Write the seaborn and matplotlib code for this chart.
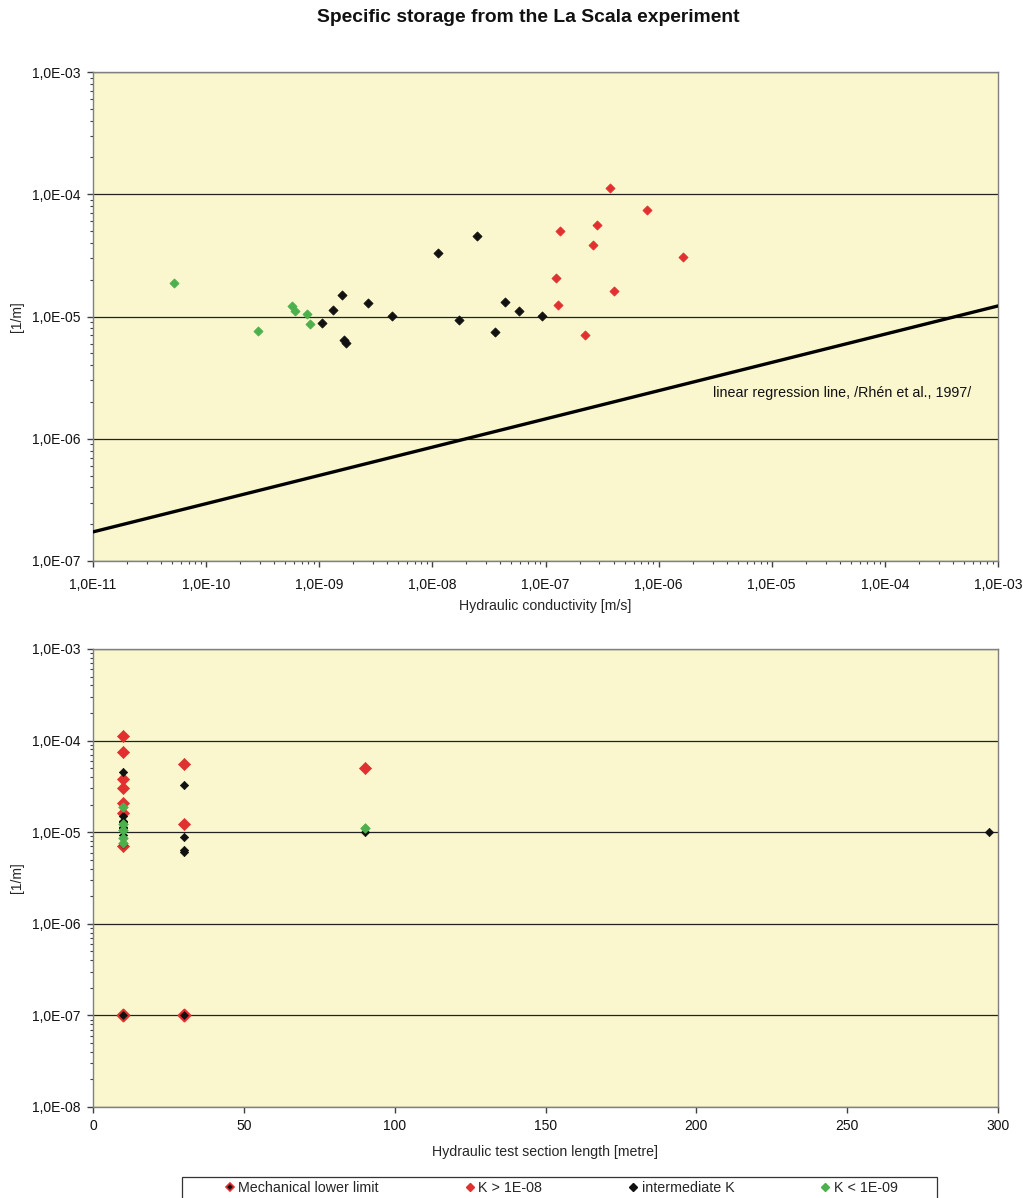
import numpy as np
import pandas as pd
import matplotlib
matplotlib.use("Agg")
import matplotlib.pyplot as plt
from matplotlib.ticker import FuncFormatter, LogLocator, MultipleLocator, NullFormatter
from matplotlib.lines import Line2D
from matplotlib.patches import Rectangle
import seaborn as sns

# ---------------- data ----------------
red_K = [1.35e-7, 1.24e-7, 1.29e-7, 2.24e-7, 2.64e-7, 2.86e-7, 3.72e-7, 4.04e-7, 7.9e-7, 1.65e-6]
red_Ss = [5.0e-5, 2.07e-5, 1.24e-5, 7.06e-6, 3.85e-5, 5.6e-5, 1.12e-4, 1.62e-5, 7.43e-5, 3.07e-5]
red_L = [90, 10, 30, 10, 10, 30, 10, 10, 10, 10]

black_K = [1.06e-9, 1.33e-9, 1.59e-9, 1.66e-9, 1.73e-9, 2.7e-9, 4.4e-9, 1.12e-8, 1.72e-8,
           2.48e-8, 3.58e-8, 4.4e-8, 5.85e-8, 9.3e-8]
black_Ss = [8.85e-6, 1.13e-5, 1.5e-5, 6.43e-6, 6.07e-6, 1.29e-5, 1.01e-5, 3.3e-5, 9.36e-6,
            4.55e-5, 7.47e-6, 1.31e-5, 1.11e-5, 1.01e-5]
black_L = [30, 10, 10, 30, 30, 10, 297, 30, 10, 10, 10, 10, 10, 90]

green_K = [5.2e-11, 2.88e-10, 5.75e-10, 6.1e-10, 7.8e-10, 8.3e-10]
green_Ss = [1.88e-5, 7.6e-6, 1.22e-5, 1.11e-5, 1.05e-5, 8.7e-6]
green_L = [10, 10, 10, 90, 10, 10]

mech_L = [10, 30]
mech_Ss = [1e-7, 1e-7]

reg_K = [1e-11, 1e-3]
reg_Ss = [1.73e-7, 1.22e-5]

legend_labels = ["Mechanical lower limit", "K > 1E-08", "intermediate K", "K < 1E-09"]
title = "Specific storage from the La Scala experiment"

RED = "#E03030"
BLACK = "#111111"
GREEN = "#4CB04C"
BG = "#FAF7CE"

sns.set_style("ticks")
plt.rcParams['font.family'] = ['Liberation Sans', 'DejaVu Sans']

fig = plt.figure(figsize=(10.23, 11.98), dpi=100)
W, H = 1023, 1198
ax1 = fig.add_axes([93 / W, 1 - 561 / H, 905 / W, 489 / H])
ax2 = fig.add_axes([93 / W, 1 - 1107 / H, 905 / W, 458 / H])

df_red = pd.DataFrame({"K": red_K, "Ss": red_Ss, "L": red_L})
df_black = pd.DataFrame({"K": black_K, "Ss": black_Ss, "L": black_L})
df_green = pd.DataFrame({"K": green_K, "Ss": green_Ss, "L": green_L})
df_mech = pd.DataFrame({"L": mech_L, "Ss": mech_Ss})
df_reg = pd.DataFrame({"K": reg_K, "Ss": reg_Ss})

def fmt(v, pos):
    if v <= 0:
        return ""
    e = int(round(np.log10(v)))
    return "1,0E{:+03d}".format(e)

for ax in (ax1, ax2):
    ax.set_facecolor(BG)
    ax.set_yscale("log")
    for s in ax.spines.values():
        s.set_color("#808080")
        s.set_linewidth(1.0)
    ax.yaxis.set_major_formatter(FuncFormatter(fmt))
    ax.yaxis.set_minor_locator(LogLocator(base=10, subs=np.arange(2, 10)))
    ax.yaxis.set_minor_formatter(NullFormatter())
    ax.tick_params(axis="both", which="major", direction="out", length=4, width=1,
                   color="#404040", labelsize=10, labelcolor="#111111", pad=5)
    ax.tick_params(axis="both", which="minor", direction="out", length=2.5, width=0.8,
                   color="#404040")
    ax.grid(True, axis="y", which="major", color="#222222", lw=0.9)
    ax.grid(False, axis="x")
    ax.set_axisbelow(True)

# ----- top plot -----
ax1.set_xscale("log")
ax1.set_xlim(1e-11, 1e-3)
ax1.set_ylim(1e-7, 1e-3)
ax1.xaxis.set_major_locator(LogLocator(base=10, numticks=20))
ax1.xaxis.set_minor_locator(LogLocator(base=10, subs=np.arange(2, 10), numticks=20))
ax1.xaxis.set_major_formatter(FuncFormatter(fmt))
ax1.xaxis.set_minor_formatter(NullFormatter())
ax1.tick_params(axis="x", which="major", pad=8)

sns.lineplot(data=df_reg, x="K", y="Ss", ax=ax1, color="black", lw=2.4, zorder=3)
sns.scatterplot(data=df_red, x="K", y="Ss", ax=ax1, marker="D", s=22, color=RED,
                edgecolor=RED, linewidth=0.5, zorder=4)
sns.scatterplot(data=df_black, x="K", y="Ss", ax=ax1, marker="D", s=22, color=BLACK,
                edgecolor=BLACK, linewidth=0.5, zorder=4)
sns.scatterplot(data=df_green, x="K", y="Ss", ax=ax1, marker="D", s=22, color=GREEN,
                edgecolor=GREEN, linewidth=0.5, zorder=4)
ax1.text(0.685, 0.3436, "linear regression line, /Rhén et al., 1997/", transform=ax1.transAxes,
         ha="left", va="center", fontsize=10.3, color="#111111")
ax1.set_xlabel("Hydraulic conductivity [m/s]", fontsize=10.2, labelpad=5)
ax1.set_ylabel("[1/m]", fontsize=10)
ax1.yaxis.set_label_coords(-0.076, 0.5)

# ----- bottom plot -----
ax2.set_xlim(0, 300)
ax2.set_ylim(1e-8, 1e-3)
ax2.xaxis.set_major_locator(MultipleLocator(50))
sns.scatterplot(data=df_mech, x="L", y="Ss", ax=ax2, marker="D", s=36, color=BLACK,
                edgecolor=RED, linewidth=1.5, zorder=3)
sns.scatterplot(data=df_red, x="L", y="Ss", ax=ax2, marker="D", s=38, color=RED,
                edgecolor=RED, linewidth=0.5, zorder=4)
sns.scatterplot(data=df_black, x="L", y="Ss", ax=ax2, marker="D", s=18, color=BLACK,
                edgecolor=BLACK, linewidth=0.5, zorder=5)
sns.scatterplot(data=df_green, x="L", y="Ss", ax=ax2, marker="D", s=24, color=GREEN,
                edgecolor=GREEN, linewidth=0.5, zorder=6)
ax2.set_xlabel("Hydraulic test section length [metre]", fontsize=10.2, labelpad=8)
ax2.set_ylabel("[1/m]", fontsize=10)
ax2.yaxis.set_label_coords(-0.076, 0.5)

fig.text(528 / W, 1 - 18 / H, title, ha="center", va="center", fontsize=13.9,
         fontweight="bold", color="#111111")

# legend box (drawn separately, Excel-like wide box running off the bottom edge)
fig.patches.append(Rectangle((182 / W, 1 - 1215 / H), 755 / W, 38 / H, transform=fig.transFigure,
                             facecolor="white", edgecolor="#333333", lw=0.9, zorder=0))

handles = [
    Line2D([], [], ls="none", marker="D", ms=4.5, mfc=BLACK, mec=RED, mew=1.2),
    Line2D([], [], ls="none", marker="D", ms=4.5, mfc=RED, mec=RED),
    Line2D([], [], ls="none", marker="D", ms=4.5, mfc=BLACK, mec=BLACK),
    Line2D([], [], ls="none", marker="D", ms=4.5, mfc=GREEN, mec=GREEN),
]
leg = fig.legend(handles, legend_labels, loc="center left",
                 bbox_to_anchor=(224 / W, 1 - 1188 / H),
                 ncol=4, fontsize=10.3, frameon=False, handlelength=0.8,
                 handletextpad=0.2, columnspacing=5.95, borderpad=0, borderaxespad=0)

fig.savefig("out.png", dpi=100, facecolor="white")
